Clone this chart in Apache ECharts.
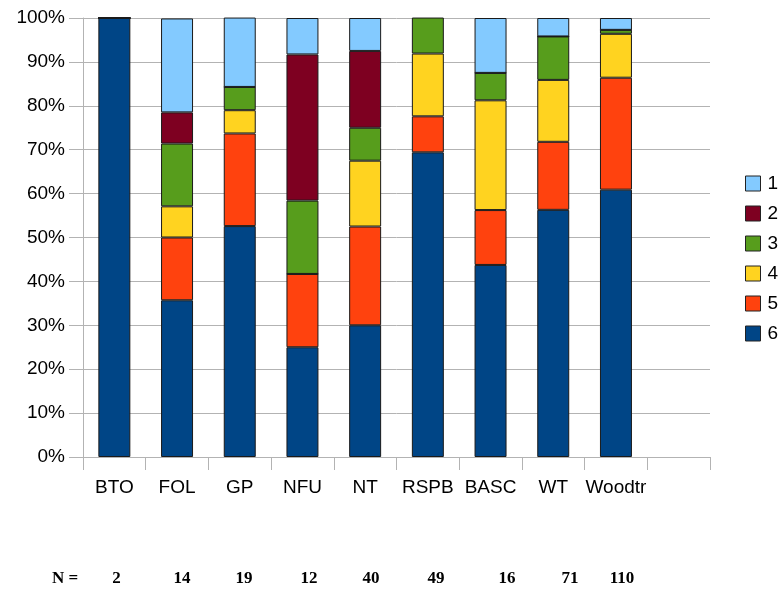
<!DOCTYPE html>
<html><head><meta charset="utf-8">
<script src="https://cdn.jsdelivr.net/npm/echarts@6/dist/echarts.min.js"></script>
<style>html,body{margin:0;padding:0;background:#fff}#c{width:779px;height:590px}</style>
</head><body><div id="c"></div>
<script>
const categories = ['BTO','FOL','GP','NFU','NT','RSPB','BASC','WT','Woodtr',''];
const nLabel = 'N =';
const nValues = ['2','14','19','12','40','49','16','71','110'];
const nX = [116.5,182,244,309,371,436,507,570,622];
const s6 = [100, 35.7, 52.6, 25.0, 30.0, 69.4, 43.75, 56.3, 60.9, null];
const s5 = [0, 14.3, 21.1, 16.7, 22.5, 8.2, 12.5, 15.5, 25.5, null];
const s4 = [0, 7.1, 5.3, 0, 15.0, 14.3, 25.0, 14.1, 10.0, null];
const s3 = [0, 14.3, 5.3, 16.7, 7.5, 8.2, 6.25, 9.9, 0.9, null];
const s2 = [0, 7.1, 0, 33.3, 17.5, 0, 0, 0, 0, null];
const s1 = [0, 21.4, 15.8, 8.3, 7.5, 0, 12.5, 4.2, 2.7, null];

const seriesDefs = [
  ['6', s6, '#004586'],
  ['5', s5, '#ff420e'],
  ['4', s4, '#ffd320'],
  ['3', s3, '#579d1c'],
  ['2', s2, '#7e0021'],
  ['1', s1, '#83caff']
];

const chart = echarts.init(document.getElementById('c'), null, {renderer:'canvas'});
const font = 'Liberation Sans, Arial, sans-serif';
const nFont = 'bold 17px "Liberation Serif", "Times New Roman", serif';
chart.setOption({
  animation: false,
  backgroundColor: '#fff',
  grid: {left: 83, right: 69, top: 18, bottom: 133, containLabel: false},
  legend: {
    orient: 'vertical', left: 740, top: 169,
    itemWidth: 15, itemHeight: 15, itemGap: 11,
    icon: 'rect',
    data: ['1','2','3','4','5','6'],
    textStyle: {fontFamily: font, fontSize: 19, color: '#000', padding: [0,0,0,2]},
    itemStyle: {borderColor: '#222', borderWidth: 1}
  },
  xAxis: {
    type: 'category', data: categories,
    axisLine: {lineStyle: {color: '#b3b3b3', width: 1}},
    axisTick: {show: true, length: 13, alignWithLabel: false, lineStyle: {color: '#b3b3b3'}},
    axisLabel: {fontFamily: font, fontSize: 19, color: '#000', margin: 21, interval: 0},
    splitLine: {show: false}
  },
  yAxis: {
    type: 'value', min: 0, max: 100, interval: 10,
    axisLine: {show: true, lineStyle: {color: '#b3b3b3'}},
    axisTick: {show: true, length: 14, lineStyle: {color: '#b3b3b3'}},
    axisLabel: {fontFamily: font, fontSize: 19, color: '#000', margin: 18, formatter: v => v + '%'},
    splitLine: {show: true, lineStyle: {color: '#b3b3b3', width: 1}}
  },
  series: seriesDefs.map(([name, data, color]) => ({
    name, type: 'bar', stack: 'all', data,
    barWidth: '51%',
    itemStyle: {color, borderColor: '#1a1a1a', borderWidth: 1}
  })),
  graphic: [
    {type: 'text', x: 65, y: 579, style: {text: nLabel, font: nFont, fill: '#000', align: 'center', verticalAlign: 'middle'}}
  ].concat(nValues.map((t, i) => ({
    type: 'text', x: nX[i], y: 579,
    style: {text: t, font: nFont, fill: '#000', align: 'center', verticalAlign: 'middle'}
  })))
});
</script></body></html>
